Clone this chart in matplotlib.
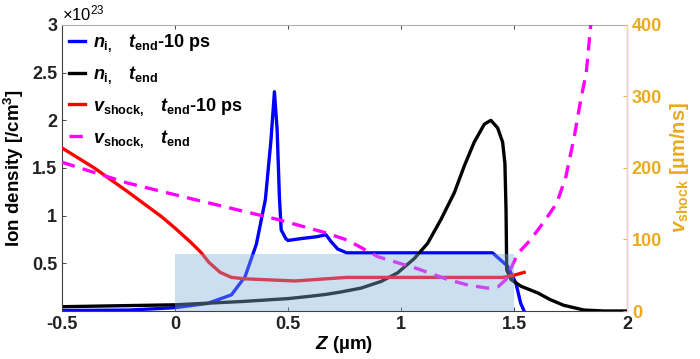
import numpy as np
import matplotlib.pyplot as plt

plt.rcParams['font.family'] = 'Liberation Sans'
plt.rcParams['font.weight'] = 'bold'
plt.rcParams['axes.labelweight'] = 'bold'
plt.rcParams['mathtext.fontset'] = 'custom'
plt.rcParams['mathtext.it'] = 'Liberation Sans:bold:italic'
plt.rcParams['mathtext.rm'] = 'Liberation Sans:bold'
plt.rcParams['mathtext.bf'] = 'Liberation Sans:bold'

# densidad ionica (x 1e23 /cm^3), t_end - 10 ps
z_blue = [-0.5, -0.2, 0.0, 0.145, 0.25, 0.31, 0.36, 0.40, 0.425, 0.44, 0.452, 0.462, 0.47,
          0.49, 0.50, 0.56, 0.63, 0.668, 0.69, 0.72, 0.76, 1.405, 1.472, 1.509, 1.53, 1.545]
n_blue = [0.005, 0.01, 0.035, 0.08, 0.17, 0.36, 0.70, 1.17, 1.8, 2.3, 1.9, 1.2, 0.85,
          0.76, 0.74, 0.76, 0.78, 0.80, 0.73, 0.65, 0.61, 0.61, 0.47, 0.29, 0.08, 0.0]

# densidad ionica, t_end
z_black = [-0.5, 0.0, 0.3, 0.5, 0.6, 0.67, 0.735, 0.823, 0.912, 0.985, 1.059, 1.118, 1.177,
           1.236, 1.28, 1.324, 1.369, 1.398, 1.428, 1.45, 1.46, 1.465, 1.468, 1.487,
           1.531, 1.605, 1.66, 1.72, 1.81, 1.9, 2.0]
n_black = [0.045, 0.065, 0.10, 0.13, 0.155, 0.175, 0.20, 0.24, 0.31, 0.40, 0.55, 0.71, 0.96,
           1.24, 1.52, 1.77, 1.96, 2.00, 1.92, 1.77, 1.55, 1.06, 0.43, 0.33,
           0.26, 0.19, 0.12, 0.06, 0.01, 0.0, 0.0]

# velocidad del choque (um/ns), t_end - 10 ps
z_red = [-0.5, -0.357, -0.21, -0.06, 0.0, 0.07, 0.115, 0.15, 0.20, 0.25, 0.31, 0.53,
         0.76, 1.0, 1.45, 1.5, 1.545]
v_red = [228, 200, 167, 132, 116, 96, 82, 68, 54, 47, 45, 42, 47, 47, 47, 50, 54]

# velocidad del choque, t_end
z_mag = [-0.5, -0.21, 0.085, 0.455, 0.66, 0.764, 0.897, 1.074, 1.207, 1.30, 1.384, 1.43,
         1.465, 1.516, 1.575, 1.64, 1.69, 1.73, 1.767, 1.796, 1.82, 1.84]
v_mag = [208, 179, 156, 128, 110, 99, 76, 59, 44, 36, 32, 34, 44, 80, 100, 128, 151,
         188, 244, 296, 333, 401]

# region sombreada (objetivo)
box_z = [0.0, 1.5]
box_top = 0.6  # x 1e23

orange = '#EAAA1E'

fig = plt.figure(figsize=(7, 3.59), dpi=100)
ax = fig.add_axes([0.0886, 0.1337, 0.807, 0.7967])
ax2 = ax.twinx()

lw = 2.4
l1, = ax.plot(z_blue, n_blue, color='#0000ff', lw=lw, label=r'$n_\mathrm{i,}$   $t_\mathrm{end}$-10 ps')
l2, = ax.plot(z_black, n_black, color='black', lw=lw, label=r'$n_\mathrm{i,}$   $t_\mathrm{end}$')
l3, = ax2.plot(z_red, v_red, color='#ff0000', lw=lw, label=r'$v_\mathrm{shock,}$   $t_\mathrm{end}$-10 ps')
l4, = ax2.plot(z_mag, v_mag, color='#ff00ff', lw=lw, ls=(0, (4, 2.5)),
               label=r'$v_\mathrm{shock,}$   $t_\mathrm{end}$')

# el rectangulo va en ax2 para quedar encima de todas las curvas
ax2.fill_between(box_z, 0, box_top * 400 / 3, color='#7fb0dc', alpha=0.4, lw=0, zorder=5)

ax.set_xlim(-0.5, 2)
ax.set_ylim(0, 3)
ax2.set_ylim(0, 400)
ax.set_xticks([-0.5, 0, 0.5, 1, 1.5, 2])
ax.set_xticklabels(['-0.5', '0', '0.5', '1', '1.5', '2'])
ax.set_yticks([0.5, 1, 1.5, 2, 2.5, 3])
ax.set_yticklabels(['0.5', '1', '1.5', '2', '2.5', '3'])
ax2.set_yticks([0, 100, 200, 300, 400])
ax2.set_yticklabels(['0', '100', '200', '300', '400'])

ax.tick_params(axis='both', direction='in', length=3, labelsize=13, colors='#262626',
               top=True, width=0.6)
ax.tick_params(axis='y', right=False)
ax2.tick_params(axis='y', direction='in', length=3, labelsize=13, colors=orange, width=0.6)
for lab in ax.get_xticklabels() + ax.get_yticklabels():
    lab.set_color('#222222')
    lab.set_fontweight('bold')
for lab in ax2.get_yticklabels():
    lab.set_fontweight('bold')

ax.spines['top'].set_color('#b0b0b0')
ax.spines['left'].set_color('#404040')
ax.spines['bottom'].set_color('#404040')
ax2.spines['top'].set_visible(False)
ax2.spines['right'].set_color('#f5d79a')
ax2.spines['left'].set_visible(False)
ax2.spines['bottom'].set_visible(False)

ax.set_xlabel(r'$Z$ (µm)', fontsize=13.5, fontweight='bold', labelpad=1)
ax.set_ylabel('Ion density [/cm$^3$]', fontsize=13.5, fontweight='bold', labelpad=4)
ax2.set_ylabel(r'$v_\mathrm{shock}$ [µm/ns]', fontsize=14.5, fontweight='bold',
               color=orange, labelpad=4)

ax.text(0.0, 1.005, r'×10$^{\mathregular{23}}$', transform=ax.transAxes, fontsize=12,
        fontweight='normal', ha='left', va='bottom')

leg = ax2.legend(handles=[l1, l2, l3, l4], loc='upper left', frameon=False,
                 prop={'size': 13, 'weight': 'bold'}, handlelength=0.9,
                 handletextpad=0.4, labelspacing=0.55, borderaxespad=0.1,
                 borderpad=0.3)
leg.set_zorder(10)

fig.savefig('out.png', dpi=100)
